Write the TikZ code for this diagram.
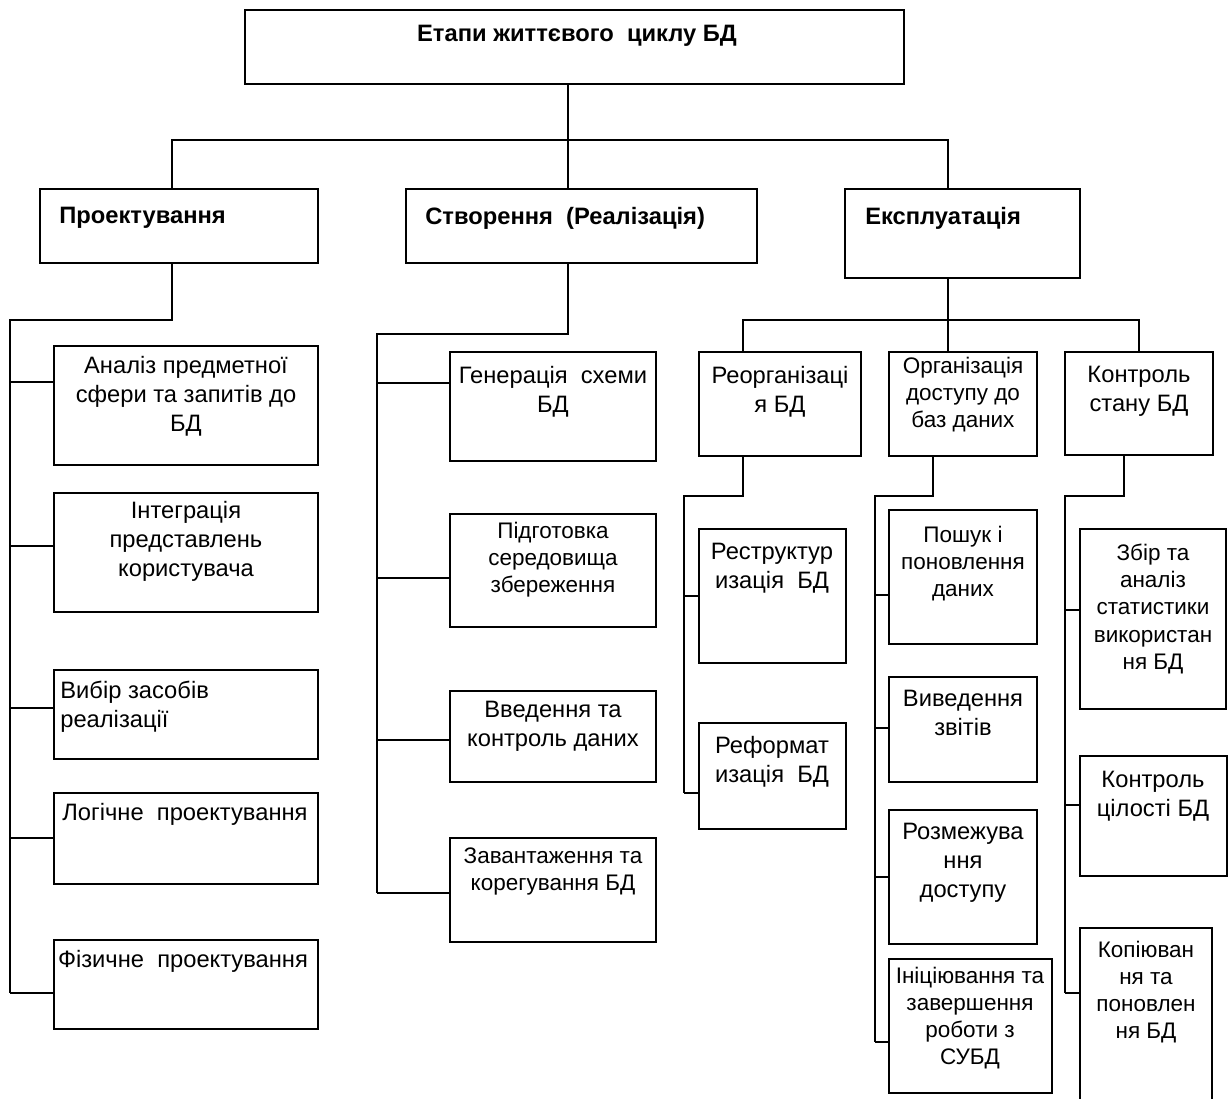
\documentclass[tikz,border=0pt]{standalone}
\usepackage{fontspec}
\setmainfont{Liberation Sans}
\usetikzlibrary{fit}

\begin{document}
\begin{tikzpicture}[x=0.02cm,y=-0.02cm,
  box/.style={draw,line width=1pt,inner sep=0pt},
  lbl/.style={anchor=north,inner sep=0pt,align=center,
    font={\fontsize{13.5}{16.4}\selectfont}},
  lbls/.style={lbl,font={\fontsize{12.8}{15.4}\selectfont}},
  head/.style={anchor=north west,inner sep=0pt,
    font={\fontsize{13.5}{16.4}\selectfont\bfseries}},
  link/.style={line width=0.9pt}]
  \fill[white] (0,0) rectangle (1228,1099);
  \useasboundingbox (0,0) rectangle (1228,1099);

  % Root and the three stages
  \node[box,fit={(245,10) (904,84)}] (top) {};
  \node[lbl,font={\fontsize{13.5}{16.4}\selectfont\bfseries}] (top-t) at (577,25)
    {Етапи життєвого\ \ циклу БД};
  \node[box,fit={(40,189) (318,263)}] (proj) {};
  \node[head] (proj-t) at (59,207) {Проектування};
  \node[box,fit={(406,189) (757,263)}] (stvor) {};
  \node[head] (stvor-t) at (425,207) {Створення\ \ (Реалізація)};
  \node[box,fit={(845,189) (1080,278)}] (ekspl) {};
  \node[head] (ekspl-t) at (865,207) {Експлуатація};

  \coordinate (b1) at (172,140);
  \coordinate (b2) at (568,140);
  \coordinate (b3) at (948,140);
  \draw[link] (top.south -| b2) -- (stvor.north -| b2);
  \draw[link] (proj.north -| b1) -- (b1) -- (b3) -- (ekspl.north -| b3);

  % Design
  \node[box,fit={(54,346) (318,465)}] (analiz) {};
  \node[lbl] (analiz-t) at (186,356) {Аналіз предметної\\сфери та запитів до\\БД};
  \node[box,fit={(54,493) (318,612)}] (integr) {};
  \node[lbl] (integr-t) at (186,501) {Інтеграція\\представлень\\користувача};
  \node[box,fit={(54,670) (318,759)}] (vybir) {};
  \node[lbl,anchor=north west,align=left] (vybir-t) at (60,681) {Вибір засобів\\реалізації};
  \node[box,fit={(54,793) (318,884)}] (logic) {};
  \node[lbl] (logic-t) at (185,803) {Логічне\ \ проектування};
  \node[box,fit={(54,940) (318,1029)}] (fiz) {};
  \node[lbl] (fiz-t) at (183,950) {Фізичне\ \ проектування};

  \draw[link] (proj.south -| 172,0) |- (10,320) -- (10,993);
  \foreach \n/\y in {analiz/382,integr/546,vybir/708,logic/838,fiz/993}
    \draw[link] (10,\y) -- (\n.west |- 10,\y);

  % Creation
  \node[box,fit={(450,352) (656,461)}] (gener) {};
  \node[lbl] (gener-t) at (553,366) {Генерація\ \ схеми\\БД};
  \node[box,fit={(450,514) (656,627)}] (pidg) {};
  \node[lbls] (pidg-t) at (553,522) {Підготовка\\середовища\\збереження};
  \node[box,fit={(450,691) (656,782)}] (vved) {};
  \node[lbl] (vved-t) at (553,701) {Введення та\\контроль даних};
  \node[box,fit={(450,838) (656,942)}] (zavan) {};
  \node[lbls] (zavan-t) at (553,847) {Завантаження та\\корегування БД};

  \draw[link] (stvor.south -| 568,0) |- (377,334) -- (377,893);
  \foreach \n/\y in {gener/383,pidg/578,vved/740,zavan/893}
    \draw[link] (377,\y) -- (\n.west |- 377,\y);

  % Operation
  \node[box,fit={(699,352) (861,456)}] (reorg) {};
  \node[lbl] (reorg-t) at (780,366) {Реорганізаці\\я БД};
  \node[box,fit={(889,352) (1037,456)}] (orgdost) {};
  \node[lbls] (orgdost-t) at (963,357) {Організація\\доступу до\\баз даних};
  \node[box,fit={(1065,352) (1213,455)}] (kontr) {};
  \node[lbl] (kontr-t) at (1139,366) {Контроль\\стану БД};

  \draw[link] (ekspl.south -| b3) -- (orgdost.north -| b3);
  \draw[link] (reorg.north -| 743,0) -- (743,320) -- (1139,320)
    -- (kontr.north -| 1139,0);

  \node[box,fit={(699,529) (846,663)}] (restr) {};
  \node[lbl] (restr-t) at (772,543) {Реструктур\\изація\ \ БД};
  \node[box,fit={(699,723) (846,829)}] (reform) {};
  \node[lbl] (reform-t) at (772,736) {Реформат\\изація\ \ БД};

  \node[box,fit={(889,510) (1037,644)}] (poshuk) {};
  \node[lbls] (poshuk-t) at (963,526) {Пошук і\\поновлення\\даних};
  \node[box,fit={(889,677) (1037,782)}] (vyved) {};
  \node[lbl] (vyved-t) at (963,690) {Виведення\\звітів};
  \node[box,fit={(889,810) (1037,944)}] (rozm) {};
  \node[lbl] (rozm-t) at (963,823) {Розмежува\\ння\\доступу};
  \node[box,fit={(889,959) (1052,1093)}] (inic) {};
  \node[lbls] (inic-t) at (970,967) {Ініціювання та\\завершення\\роботи з\\СУБД};

  \node[box,fit={(1080,529) (1226,709)}] (zbir) {};
  \node[lbls] (zbir-t) at (1153,544) {Збір та\\аналіз\\статистики\\використан\\ня БД};
  \node[box,fit={(1080,756) (1227,876)}] (cilist) {};
  \node[lbl] (cilist-t) at (1153,771) {Контроль\\цілості БД};
  \node[box,fit={(1080,928) (1212,1115)}] (kopiy) {};
  \node[lbls] (kopiy-t) at (1146,941) {Копіюван\\ня та\\поновлен\\ня БД};

  \draw[link] (reorg.south -| 743,0) |- (684,496) -- (684,793);
  \foreach \n/\y in {restr/596,reform/793}
    \draw[link] (684,\y) -- (\n.west |- 684,\y);
  \draw[link] (orgdost.south -| 933,0) |- (875,496) -- (875,1042);
  \foreach \n/\y in {poshuk/595,vyved/728,rozm/877,inic/1042}
    \draw[link] (875,\y) -- (\n.west |- 875,\y);
  \draw[link] (kontr.south -| 1124,0) |- (1065,496) -- (1065,993);
  \foreach \n/\y in {zbir/610,cilist/805,kopiy/993}
    \draw[link] (1065,\y) -- (\n.west |- 1065,\y);
\end{tikzpicture}
\end{document}
